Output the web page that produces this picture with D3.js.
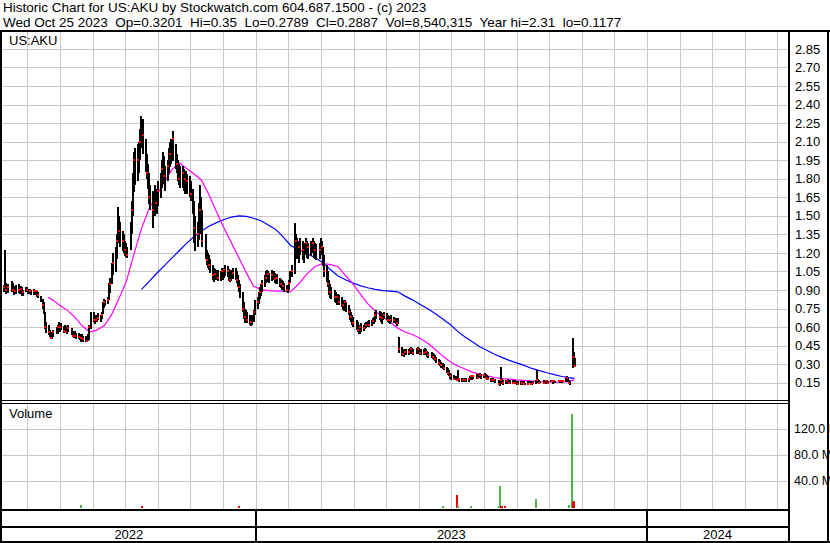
<!DOCTYPE html>
<html><head><meta charset="utf-8">
<script src="https://cdn.jsdelivr.net/npm/d3@7"></script>
<style>
html,body{margin:0;padding:0;background:#fff;}
svg{display:block;font-family:"Liberation Sans",Arial,sans-serif;}
text{white-space:pre;}
</style>
</head><body>
<svg id="c" width="830" height="543"></svg>
<script>
// ---------------- DATA ----------------
const headerLines = [
  "Historic Chart for US:AKU by Stockwatch.com 604.687.1500 - (c) 2023",
  "Wed Oct 25 2023  Op=0.3201  Hi=0.35  Lo=0.2789  Cl=0.2887  Vol=8,540,315  Year hi=2.31  lo=0.1177"
];
const symbol = "US:AKU";
const volumeTitle = "Volume";
const priceTicks = [0.15,0.30,0.45,0.60,0.75,0.90,1.05,1.20,1.35,1.50,1.65,1.80,1.95,2.10,2.25,2.40,2.55,2.70,2.85];
const volTicks = [40,80,120];              // millions
const years = ["2022","2023","2024"];
const firstTradingDay = "2022-05-09";

// daily [high, low, close], one line per week (Mon..Fri)
const bars2022 = [
[0.94,0.88,0.92],[1.22,0.90,0.93],[0.96,0.87,0.90],[0.94,0.88,0.91],[0.95,0.88,0.92],
[0.97,0.88,0.95],[0.96,0.89,0.90],[0.93,0.86,0.88],[0.92,0.86,0.89],[0.94,0.87,0.92],
[0.95,0.88,0.90],[0.92,0.86,0.88],[0.93,0.87,0.91],[0.92,0.85,0.87],[0.90,0.85,0.88],
[0.92,0.88,0.90],[0.92,0.88,0.90],[0.91,0.87,0.89],[0.91,0.87,0.89],[0.90,0.86,0.88],
[0.91,0.86,0.89],[0.90,0.86,0.88],[0.90,0.86,0.89],[0.89,0.84,0.85],[0.88,0.83,0.86],
[0.85,0.80,0.82],[0.83,0.75,0.78],[0.80,0.70,0.72],[0.72,0.58,0.60],[0.64,0.55,0.58],
[0.62,0.54,0.56],[0.58,0.52,0.54],[0.56,0.50,0.51],[0.55,0.50,0.53],[0.58,0.52,0.56],
[0.60,0.54,0.57],[0.62,0.55,0.60],[0.64,0.57,0.58],[0.62,0.56,0.60],[0.63,0.57,0.59],
[0.61,0.55,0.57],[0.62,0.56,0.60],[0.61,0.55,0.56],[0.60,0.54,0.58],[0.62,0.56,0.59],
[0.59,0.53,0.55],[0.57,0.52,0.53],[0.56,0.51,0.54],[0.57,0.52,0.53],[0.55,0.50,0.52],
[0.55,0.50,0.52],[0.54,0.49,0.50],[0.53,0.48,0.51],[0.54,0.49,0.52],[0.53,0.48,0.50],
[0.53,0.48,0.50],[0.52,0.48,0.49],[0.54,0.48,0.52],[0.62,0.50,0.60],[0.72,0.58,0.68],
[0.72,0.64,0.66],[0.70,0.63,0.67],[0.69,0.64,0.66],[0.70,0.64,0.68],[0.71,0.65,0.67],
[0.70,0.64,0.68],[0.72,0.66,0.70],[0.80,0.70,0.78],[0.83,0.76,0.80],[0.82,0.77,0.79],
[0.84,0.78,0.82],[0.96,0.82,0.93],[1.00,0.88,0.95],[1.12,0.95,1.08],[1.20,1.02,1.12],
[1.25,1.05,1.18],[1.35,1.15,1.30],[1.57,1.28,1.42],[1.50,1.30,1.38],[1.45,1.25,1.32],
[1.38,1.22,1.30],[1.35,1.20,1.25],[1.30,1.18,1.22],[1.28,1.17,1.20],[1.25,1.16,1.18],
[1.45,1.22,1.40],[1.62,1.35,1.55],[1.85,1.50,1.78],[2.02,1.70,1.95],[2.05,1.75,1.85],
[2.08,1.78,1.95],[2.10,1.85,2.02],[2.20,1.95,2.10],[2.31,2.05,2.20],[2.28,2.00,2.15],
[2.12,1.85,1.90],[2.00,1.80,1.85],[1.92,1.72,1.78],[1.85,1.60,1.65],[1.75,1.55,1.62],
[1.70,1.40,1.55],[1.75,1.50,1.68],[1.72,1.55,1.60],[1.68,1.52,1.62],[1.78,1.58,1.70],
[1.85,1.65,1.80],[1.95,1.72,1.88],[2.02,1.80,1.92],[1.98,1.75,1.82],[1.90,1.70,1.85],
[1.95,1.78,1.90],[2.05,1.85,1.98],[2.10,1.90,2.00],[2.12,1.92,2.05],[2.19,1.95,2.12],
[2.08,1.88,1.95],[2.00,1.85,1.92],[1.95,1.78,1.88],[1.92,1.75,1.80],[1.90,1.72,1.85],
[1.90,1.72,1.85],[1.88,1.70,1.78],[1.85,1.68,1.80],[1.86,1.70,1.75],[1.84,1.68,1.78],
[1.82,1.65,1.72],[1.78,1.62,1.68],[1.72,1.52,1.58],[1.62,1.28,1.40],[1.50,1.22,1.30],
[1.45,1.25,1.35],[1.60,1.30,1.52],[1.75,1.45,1.55],[1.65,1.35,1.45],[1.55,1.25,1.30],
[1.35,1.15,1.20],[1.22,1.10,1.14],[1.20,1.08,1.12],[1.18,1.06,1.10],[1.15,1.04,1.08],
[1.10,0.98,1.02],[1.08,0.97,1.05],[1.07,0.98,1.03],[1.06,0.98,1.02],[1.06,0.97,1.00],
[1.05,0.97,1.03],[1.08,0.99,1.05],[1.06,0.98,1.02],[1.08,1.00,1.06],[1.10,1.01,1.04],
[1.09,1.00,1.05],[1.07,0.97,1.00],[1.05,0.96,0.98],[1.06,0.97,1.03],[1.08,0.99,1.04],
[1.08,0.98,1.02],[1.05,0.95,0.98],[1.02,0.92,0.95],[0.98,0.88,0.92],[0.95,0.84,0.88],
[0.88,0.72,0.75],[0.80,0.66,0.70],[0.75,0.64,0.68],[0.74,0.64,0.70],[0.72,0.63,0.66],
[0.70,0.62,0.65],[0.68,0.61,0.64],[0.70,0.62,0.66],[0.74,0.64,0.72],[0.82,0.70,0.80]
];
const bars2023 = [
[0.84,0.74,0.80],[0.88,0.78,0.85],[0.92,0.82,0.88],[0.95,0.85,0.90],[0.98,0.88,0.95],
[1.02,0.92,0.98],[1.05,0.95,1.00],[1.06,0.96,1.02],[1.05,0.97,1.03],[1.04,0.96,1.00],
[1.06,0.97,1.02],[1.05,0.98,1.03],[1.04,0.96,0.99],[1.02,0.95,0.98],[1.03,0.95,1.00],
[1.00,0.93,0.96],[0.99,0.92,0.95],[0.98,0.90,0.94],[0.97,0.90,0.93],[0.96,0.89,0.92],
[0.94,0.88,0.90],[0.93,0.87,0.91],[0.98,0.90,0.96],[1.05,0.95,1.02],[1.10,1.00,1.05],
[1.44,1.03,1.28],[1.35,1.20,1.30],[1.32,1.15,1.20],[1.30,1.12,1.25],[1.32,1.18,1.28],
[1.30,1.15,1.22],[1.28,1.12,1.18],[1.32,1.18,1.28],[1.30,1.16,1.20],[1.28,1.15,1.25],
[1.30,1.18,1.24],[1.32,1.20,1.28],[1.30,1.16,1.20],[1.28,1.15,1.22],[1.27,1.14,1.18],
[1.28,1.15,1.22],[1.32,1.18,1.28],[1.30,1.20,1.25],[1.25,1.10,1.15],[1.18,1.00,1.05],
[1.10,0.96,1.00],[1.05,0.92,0.95],[0.98,0.86,0.90],[0.95,0.84,0.88],[0.92,0.82,0.86],
[0.90,0.80,0.84],[0.88,0.79,0.82],[0.86,0.78,0.84],[0.87,0.79,0.85],[0.86,0.78,0.80],
[0.84,0.76,0.80],[0.82,0.74,0.78],[0.80,0.73,0.76],[0.82,0.75,0.80],[0.80,0.72,0.75],
[0.78,0.70,0.72],[0.75,0.66,0.68],[0.72,0.64,0.68],[0.70,0.62,0.65],[0.68,0.60,0.63],
[0.66,0.58,0.60],[0.64,0.56,0.58],[0.62,0.55,0.57],[0.62,0.55,0.60],[0.63,0.56,0.58],
[0.62,0.57,0.59],[0.63,0.58,0.61],[0.64,0.59,0.62],[0.65,0.60,0.63],[0.66,0.60,0.62],
[0.66,0.61,0.63],[0.67,0.62,0.65],[0.68,0.62,0.64],[0.72,0.64,0.70],[0.74,0.67,0.71],
[0.73,0.66,0.68],[0.72,0.64,0.66],[0.70,0.63,0.67],[0.71,0.65,0.69],[0.72,0.66,0.70],
[0.71,0.65,0.68],[0.70,0.64,0.66],[0.69,0.63,0.65],[0.68,0.62,0.66],[0.70,0.64,0.67],
[0.68,0.63,0.66],[0.67,0.62,0.64],[0.66,0.61,0.63],[0.67,0.62,0.65],[0.52,0.39,0.42],
[0.44,0.37,0.40],[0.42,0.36,0.38],[0.41,0.36,0.39],[0.42,0.37,0.40],[0.42,0.37,0.40],
[0.42,0.37,0.40],[0.43,0.38,0.41],[0.44,0.39,0.42],[0.43,0.38,0.41],[0.42,0.37,0.39],
[0.43,0.38,0.41],[0.44,0.39,0.42],[0.43,0.38,0.40],[0.42,0.37,0.39],[0.42,0.37,0.40],
[0.42,0.37,0.39],[0.43,0.38,0.41],[0.42,0.37,0.40],[0.41,0.36,0.38],[0.40,0.35,0.37],
[0.40,0.35,0.37],[0.39,0.34,0.36],[0.38,0.33,0.35],[0.37,0.32,0.34],[0.36,0.31,0.33],
[0.34,0.29,0.31],[0.33,0.28,0.30],[0.32,0.27,0.29],[0.31,0.26,0.28],[0.30,0.25,0.27],
[0.28,0.23,0.25],[0.27,0.21,0.23],[0.25,0.20,0.22],[0.23,0.18,0.20],[0.22,0.17,0.19],
[0.21,0.17,0.18],[0.20,0.17,0.18],[0.20,0.16,0.17],[0.25,0.16,0.17],[0.19,0.16,0.18],
[0.19,0.16,0.17],[0.18,0.16,0.17],[0.19,0.16,0.18],[0.18,0.155,0.17],[0.19,0.16,0.17],
[0.19,0.16,0.18],[0.20,0.17,0.19],[0.21,0.18,0.20],[0.20,0.17,0.19],[0.21,0.18,0.20],
[0.22,0.18,0.20],[0.21,0.18,0.19],[0.22,0.19,0.21],[0.23,0.19,0.21],[0.22,0.18,0.20],
[0.22,0.19,0.21],[0.23,0.19,0.20],[0.22,0.18,0.19],[0.21,0.17,0.18],[0.20,0.17,0.18],
[0.19,0.16,0.17],[0.18,0.16,0.17],[0.19,0.16,0.18],[0.18,0.16,0.17],[0.18,0.15,0.16],
[0.17,0.13,0.14],[0.16,0.12,0.13],[0.28,0.14,0.17],[0.18,0.14,0.15],[0.17,0.13,0.15],
[0.17,0.14,0.15],[0.17,0.14,0.16],[0.18,0.15,0.16],[0.17,0.14,0.15],[0.17,0.14,0.16],
[0.17,0.14,0.15],[0.16,0.14,0.15],[0.17,0.14,0.15],[0.16,0.13,0.14],[0.16,0.13,0.14],
[0.16,0.13,0.14],[0.16,0.13,0.15],[0.15,0.13,0.14],[0.16,0.13,0.14],[0.15,0.13,0.14],
[0.16,0.13,0.14],[0.16,0.14,0.15],[0.15,0.13,0.14],[0.16,0.13,0.15],[0.16,0.14,0.15],
[0.17,0.14,0.15],[0.255,0.15,0.17],[0.18,0.15,0.16],[0.17,0.14,0.15],[0.16,0.14,0.15],
[0.17,0.14,0.15],[0.17,0.14,0.16],[0.17,0.15,0.16],[0.17,0.14,0.15],[0.16,0.14,0.15],
[0.17,0.15,0.16],[0.17,0.15,0.16],[0.17,0.14,0.15],[0.17,0.15,0.16],[0.16,0.14,0.15],
[0.17,0.15,0.16],[0.16,0.14,0.15],[0.17,0.15,0.16],[0.16,0.14,0.15],[0.17,0.15,0.16],
[0.19,0.16,0.18],[0.20,0.17,0.19],[0.19,0.16,0.17],[0.17,0.14,0.15],[0.16,0.13,0.145],
[0.51,0.27,0.36],[0.40,0.30,0.36],[0.35,0.2789,0.2887]
];

// moving averages: [date, value]
const maShort = [
['2022-06-20',0.84],['2022-06-24',0.82],['2022-07-01',0.775],['2022-07-08',0.735],['2022-07-15',0.68],
['2022-07-22',0.61],['2022-07-29',0.56],['2022-08-05',0.575],['2022-08-12',0.61],['2022-08-19',0.70],
['2022-08-26',0.83],['2022-09-02',0.97],['2022-09-09',1.19],['2022-09-16',1.40],['2022-09-23',1.56],
['2022-09-30',1.67],['2022-10-07',1.77],['2022-10-14',1.87],['2022-10-21',1.93],['2022-10-28',1.885],
['2022-11-04',1.84],['2022-11-11',1.79],['2022-11-18',1.67],['2022-11-25',1.53],['2022-12-02',1.40],
['2022-12-09',1.28],['2022-12-16',1.16],['2022-12-23',1.04],['2022-12-30',0.93],['2023-01-06',0.905],
['2023-01-13',0.895],['2023-01-20',0.89],['2023-01-27',0.89],['2023-02-03',0.886],['2023-02-10',0.95],
['2023-02-17',1.03],['2023-02-24',1.09],['2023-03-03',1.115],['2023-03-10',1.105],['2023-03-17',1.09],
['2023-03-24',1.02],['2023-03-31',0.955],['2023-04-07',0.87],['2023-04-14',0.79],['2023-04-21',0.73],
['2023-04-28',0.68],['2023-05-05',0.64],['2023-05-12',0.59],['2023-05-19',0.56],['2023-05-26',0.54],
['2023-06-02',0.51],['2023-06-09',0.47],['2023-06-16',0.42],['2023-06-23',0.365],['2023-06-30',0.32],
['2023-07-07',0.285],['2023-07-14',0.26],['2023-07-21',0.235],['2023-07-28',0.218],['2023-08-04',0.205],
['2023-08-11',0.192],['2023-08-18',0.183],['2023-08-25',0.178],['2023-09-01',0.172],['2023-09-08',0.168],
['2023-09-15',0.163],['2023-09-22',0.158],['2023-09-29',0.156],['2023-10-06',0.155],['2023-10-13',0.155],
['2023-10-20',0.158],['2023-10-25',0.175]
];
const maLong = [
['2022-09-16',0.905],['2022-09-23',0.97],['2022-09-30',1.035],['2022-10-07',1.095],['2022-10-14',1.155],
['2022-10-21',1.215],['2022-10-28',1.275],['2022-11-04',1.33],['2022-11-11',1.375],['2022-11-18',1.415],
['2022-11-25',1.445],['2022-12-02',1.47],['2022-12-09',1.49],['2022-12-16',1.50],['2022-12-23',1.495],
['2022-12-30',1.48],['2023-01-06',1.46],['2023-01-13',1.425],['2023-01-20',1.39],['2023-01-27',1.33],
['2023-02-03',1.26],['2023-02-10',1.225],['2023-02-17',1.195],['2023-02-24',1.16],['2023-03-03',1.12],
['2023-03-10',1.065],['2023-03-17',1.015],['2023-03-24',0.985],['2023-03-31',0.957],['2023-04-07',0.935],
['2023-04-14',0.918],['2023-04-21',0.905],['2023-04-28',0.894],['2023-05-05',0.89],['2023-05-12',0.885],
['2023-05-19',0.85],['2023-05-26',0.82],['2023-06-02',0.785],['2023-06-09',0.75],['2023-06-16',0.71],
['2023-06-23',0.665],['2023-06-30',0.62],['2023-07-07',0.565],['2023-07-14',0.52],['2023-07-21',0.48],
['2023-07-28',0.44],['2023-08-04',0.41],['2023-08-11',0.38],['2023-08-18',0.355],['2023-08-25',0.33],
['2023-09-01',0.31],['2023-09-08',0.29],['2023-09-15',0.265],['2023-09-22',0.247],['2023-09-29',0.23],
['2023-10-06',0.215],['2023-10-13',0.20],['2023-10-20',0.19],['2023-10-25',0.185]
];

// visible volume bars (millions); up = green, down = red
const volDates  = ['2022-07-21','2022-09-16','2022-12-16','2023-06-23','2023-07-06','2023-07-07','2023-07-20','2023-08-15','2023-08-16','2023-08-17','2023-08-18','2023-08-21','2023-09-19','2023-10-20','2023-10-23','2023-10-24','2023-10-25'];
const volValues = [3.0, 1.5, 1.5, 1.2, 18, 1.0, 1.2, 1.5, 32, 1.2, 1.2, 1.0, 12, 3.0, 142, 6.5, 8.54];
const volUp     = [1, 0, 0, 1, 0, 1, 1, 1, 1, 0, 0, 0, 1, 1, 1, 0, 0];

// ---------------- CHART ----------------
const svg = d3.select('#c');
const parse = d3.timeParse('%Y-%m-%d');
const L = 2, R = 788;                 // plot x extent
const priceTop = 32, priceBot = 400;
const volTop = 404, volBot = 509;

// month based x scale (0 = Jan 2023)
const monthOf = dt => {
  const m0 = d3.timeMonth.floor(dt);
  const len = d3.timeDay.count(m0, d3.timeMonth.offset(m0, 1));
  return (dt.getFullYear() - 2023) * 12 + dt.getMonth() + (dt.getDate() - 1) / len;
};
const xm = d3.scaleLinear().domain([0, 12]).range([255.7, 647]);
const X = dt => xm(monthOf(dt));
const yp = d3.scaleLinear().domain([0, 3]).range([401.2, 30.4]);
const yv = d3.scaleLinear().domain([0, 160]).range([506.5, 402.5]);

const bars = bars2022.concat(bars2023);
const days = [];
for (let d = parse(firstTradingDay); days.length < bars.length; d = d3.timeDay.offset(d, 1)) {
  const wd = d.getDay();
  if (wd !== 0 && wd !== 6) days.push(new Date(d));
}

const grid = '#c8c8c8';
const monthLines = d3.range(-7, 17);

// price gridlines
const gP = svg.append('g').attr('shape-rendering', 'crispEdges');
gP.selectAll('line.v').data(monthLines).join('line')
  .attr('x1', m => Math.round(xm(m)) + 0.5).attr('x2', m => Math.round(xm(m)) + 0.5)
  .attr('y1', priceTop).attr('y2', priceBot).attr('stroke', grid);
gP.selectAll('line.h').data(priceTicks).join('line')
  .attr('x1', L).attr('x2', R)
  .attr('y1', v => Math.round(yp(v)) + 0.5).attr('y2', v => Math.round(yp(v)) + 0.5).attr('stroke', grid);

// volume gridlines
const gV = svg.append('g').attr('shape-rendering', 'crispEdges');
gV.selectAll('line.v').data(monthLines).join('line')
  .attr('x1', m => Math.round(xm(m)) + 0.5).attr('x2', m => Math.round(xm(m)) + 0.5)
  .attr('y1', volTop).attr('y2', volBot).attr('stroke', grid);
gV.selectAll('line.h').data(volTicks).join('line')
  .attr('x1', L).attr('x2', R)
  .attr('y1', v => Math.round(yv(v)) + 0.5).attr('y2', v => Math.round(yv(v)) + 0.5).attr('stroke', grid);

// clip for price
svg.append('clipPath').attr('id', 'pc').append('rect')
  .attr('x', L).attr('y', priceTop).attr('width', R - L).attr('height', priceBot - priceTop);
const gB = svg.append('g').attr('clip-path', 'url(#pc)');

// moving averages
const maLine = d3.line().x(d => X(parse(d[0]))).y(d => yp(d[1]));
gB.append('path').datum(maLong).attr('d', maLine).attr('fill', 'none').attr('stroke', '#0000ff').attr('stroke-width', 1.2);
gB.append('path').datum(maShort).attr('d', maLine).attr('fill', 'none').attr('stroke', '#ff00ff').attr('stroke-width', 1.2);

// bars: black high-low line, red close mark
const gBar = gB.append('g').attr('shape-rendering', 'crispEdges');
bars.forEach((b, i) => {
  const x = Math.round(X(days[i]));
  gBar.append('rect').attr('x', x).attr('y', Math.round(yp(b[0]))).attr('width', 2)
    .attr('height', Math.max(1, Math.round(yp(b[1]) - yp(b[0])))).attr('fill', '#000');
});
bars.forEach((b, i) => {
  if (i % 2 === 1 && i !== bars.length - 1) return;
  const x = Math.round(X(days[i]));
  gBar.append('rect').attr('x', x).attr('y', Math.round(yp(b[2])) - 1).attr('width', 2).attr('height', 2).attr('fill', '#ff0000');
});

// volume bars
svg.append('g').attr('shape-rendering', 'crispEdges').selectAll('rect').data(volDates).join('rect')
  .attr('x', (d, i) => Math.round(X(parse(d))) - 1)
  .attr('y', (d, i) => Math.round(yv(volValues[i])))
  .attr('width', 2)
  .attr('height', (d, i) => 508 - Math.round(yv(volValues[i])))
  .attr('fill', (d, i) => volUp[i] ? '#4cb84c' : '#ee0000');

// frame
const fr = svg.append('g').attr('fill', '#000').attr('shape-rendering', 'crispEdges');
fr.append('rect').attr('x', 0).attr('y', 30).attr('width', 830).attr('height', 2);
fr.append('rect').attr('x', 0).attr('y', 30).attr('width', 2).attr('height', 513);
fr.append('rect').attr('x', R).attr('y', 30).attr('width', 2).attr('height', 513);
fr.append('rect').attr('x', 827).attr('y', 30).attr('width', 2).attr('height', 513);
fr.append('rect').attr('x', 0).attr('y', 541).attr('width', 830).attr('height', 2);
fr.append('rect').attr('x', 0).attr('y', 400).attr('width', R).attr('height', 1);
fr.append('rect').attr('x', 0).attr('y', 403).attr('width', R).attr('height', 1);
fr.append('rect').attr('x', 0).attr('y', 509).attr('width', R).attr('height', 2);
fr.append('rect').attr('x', 0).attr('y', 526).attr('width', R).attr('height', 2);
[0, 12].forEach(m => fr.append('rect').attr('x', Math.round(xm(m)) - 1).attr('y', 509).attr('width', 2).attr('height', 33));

// year labels
const yearEdges = [L, xm(0), xm(12), R];
svg.append('g').selectAll('text').data(years).join('text')
  .attr('x', (d, i) => (yearEdges[i] + yearEdges[i + 1]) / 2).attr('y', 539)
  .attr('text-anchor', 'middle').attr('font-size', 13).text(d => d);

// header
svg.append('g').selectAll('text').data(headerLines).join('text')
  .attr('x', 3).attr('y', (d, i) => 12 + i * 15).attr('font-size', 13.5).text(d => d);

// panel titles
svg.append('text').attr('x', 9).attr('y', 45).attr('font-size', 13).text(symbol);
svg.append('text').attr('x', 9).attr('y', 418).attr('font-size', 13).text(volumeTitle);

// price axis labels
svg.append('g').selectAll('text').data(priceTicks).join('text')
  .attr('x', 795).attr('y', v => yp(v)).attr('dy', '0.36em').attr('font-size', 13)
  .text(v => v.toFixed(2));
// volume axis labels (the unit runs into the right edge, as in the original)
svg.append('g').selectAll('text').data(volTicks).join('text')
  .attr('x', 794).attr('y', v => yv(v)).attr('dy', '0.36em').attr('font-size', 12.5)
  .text(v => v.toFixed(1) + ' M');
</script>
</body></html>
